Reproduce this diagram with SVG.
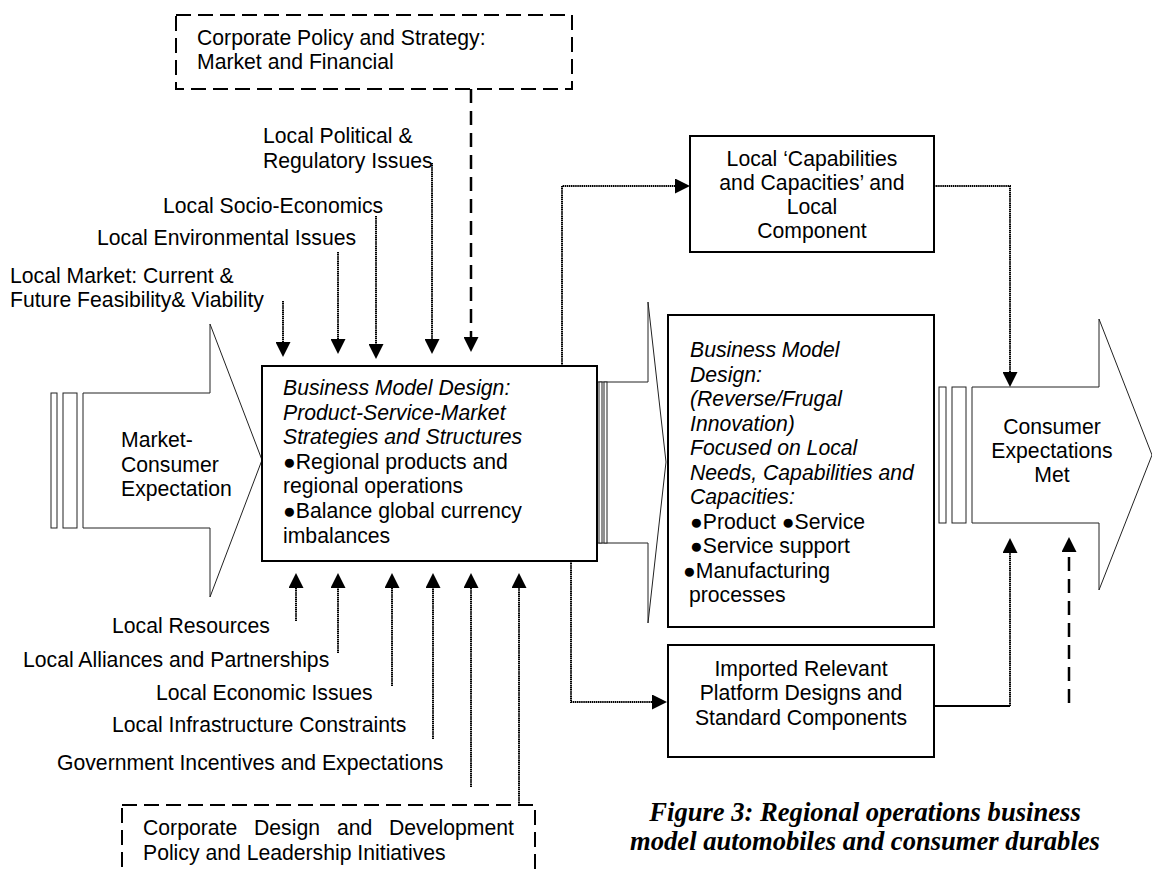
<svg xmlns="http://www.w3.org/2000/svg" width="1152" height="872" viewBox="0 0 1152 872">
<style>
text{font-family:"Liberation Sans",Arial,sans-serif;font-size:21.2px;fill:#000}
.it{font-style:italic}
.c{text-anchor:middle}
.cap{font-family:"Liberation Serif","Times New Roman",serif;font-size:26.6px;font-weight:bold;font-style:italic;text-anchor:middle}
.box{fill:#fff;stroke:#000;stroke-width:2}
.dbox{fill:none;stroke:#000;stroke-width:2;stroke-dasharray:15 7}
.big{fill:#fff;stroke:#222;stroke-width:1}
.dot{fill:none;stroke:#000;stroke-width:2;stroke-dasharray:1.5 0.6}
.dash{fill:none;stroke:#000;stroke-width:2.5;stroke-dasharray:14 8}
.sol{fill:none;stroke:#000;stroke-width:2}
</style>
<defs>
<marker id="ah" viewBox="0 0 15 15" refX="0" refY="7.5" markerWidth="15" markerHeight="15" markerUnits="userSpaceOnUse" orient="auto">
<path d="M0,0 L15,7.5 L0,15 z" fill="#000"/>
</marker>
</defs>

<g id="arrow-left">
<rect class="big" x="51" y="393" width="6" height="135"/>
<rect class="big" x="63" y="393" width="14" height="135"/>
<polygon class="big" points="83,393 210,393 210,324 262,460 210,597 210,528 83,528"/>
<text x="121" y="447">Market-</text>
<text x="121" y="472">Consumer</text>
<text x="121" y="496">Expectation</text>
</g>

<g id="arrow-middle">
<polygon class="big" points="590,382 648,382 648,302 666,462 648,623 648,543 590,543"/>
<rect class="big" x="599" y="382" width="3" height="161"/>
<rect class="big" x="604" y="382" width="3" height="161"/>
</g>

<g id="arrow-right">
<rect class="big" x="939" y="387" width="7" height="136"/>
<rect class="big" x="952" y="387" width="14" height="136"/>
<polygon class="big" points="972,387 1099,387 1099,319 1152,455 1099,590 1099,523 972,523"/>
<text class="c" x="1052" y="434">Consumer</text>
<text class="c" x="1052" y="458">Expectations</text>
<text class="c" x="1052" y="482">Met</text>
</g>

<g id="corporate-policy">
<rect class="dbox" x="176" y="15" width="396" height="74"/>
<text x="197" y="45">Corporate Policy and Strategy:</text>
<text x="197" y="69">Market and Financial</text>
</g>

<g id="corporate-design">
<rect class="dbox" x="122" y="805" width="413" height="80"/>
<text x="143" y="835">Corporate</text>
<text x="254" y="835">Design</text>
<text x="337" y="835">and</text>
<text x="389" y="835">Development</text>
<text x="143" y="860">Policy and Leadership Initiatives</text>
</g>

<g id="central-box">
<rect class="box" x="262" y="366" width="335" height="195"/>
<text class="it" x="283" y="395">Business Model Design:</text>
<text class="it" x="283" y="420">Product-Service-Market</text>
<text class="it" x="283" y="444">Strategies and Structures</text>
<text x="283" y="469">●Regional products and</text>
<text x="283" y="493">regional operations</text>
<text x="283" y="518">●Balance global currency</text>
<text x="283" y="543">imbalances</text>
</g>

<g id="local-frugal-box">
<rect class="box" x="668" y="315" width="266" height="312"/>
<text class="it" x="690" y="357">Business Model</text>
<text class="it" x="690" y="381.5">Design:</text>
<text class="it" x="690" y="406">(Reverse/Frugal</text>
<text class="it" x="690" y="430.5">Innovation)</text>
<text class="it" x="690" y="455">Focused on Local</text>
<text class="it" x="690" y="479.5">Needs, Capabilities and</text>
<text class="it" x="690" y="504">Capacities:</text>
<text x="690" y="528.5">●Product ●Service</text>
<text x="690" y="553">●Service support</text>
<text x="683" y="577.5">●Manufacturing</text>
<text x="689" y="602">processes</text>
</g>

<g id="local-capabilities-box">
<rect class="box" x="690" y="136" width="244" height="116"/>
<text class="c" x="812" y="166">Local ‘Capabilities</text>
<text class="c" x="812" y="190">and Capacities’ and</text>
<text class="c" x="812" y="214">Local</text>
<text class="c" x="812" y="238">Component</text>
</g>

<g id="imported-box">
<rect class="box" x="668" y="645" width="266" height="112"/>
<text class="c" x="801" y="676">Imported Relevant</text>
<text class="c" x="801" y="700">Platform Designs and</text>
<text class="c" x="801" y="725">Standard Components</text>
</g>

<g id="labels-top">
<text x="263" y="143">Local Political &amp;</text>
<text x="263" y="167.5">Regulatory Issues</text>
<text x="163" y="213">Local Socio-Economics</text>
<text x="97" y="245">Local Environmental Issues</text>
<text x="10" y="283">Local Market: Current &amp;</text>
<text x="10" y="307">Future Feasibility&amp; Viability</text>
</g>

<g id="labels-bottom">
<text x="112" y="633">Local Resources</text>
<text x="23" y="667">Local Alliances and Partnerships</text>
<text x="156" y="700">Local Economic Issues</text>
<text x="112" y="732">Local Infrastructure Constraints</text>
<text x="57" y="770">Government Incentives and Expectations</text>
</g>

<g id="caption">
<text class="cap" x="865" y="821">Figure 3: Regional operations business</text>
<text class="cap" x="865" y="850">model automobiles and consumer durables</text>
</g>

<g id="connectors">
<path class="dot" d="M283,301 V342" marker-end="url(#ah)"/>
<path class="dot" d="M338,252 V339" marker-end="url(#ah)"/>
<path class="dot" d="M376,216 V344" marker-end="url(#ah)"/>
<path class="dot" d="M432,163 V339" marker-end="url(#ah)"/>
<path class="dash" d="M471,89 V337" marker-end="url(#ah)"/>
<path class="dot" d="M296,621 V588" marker-end="url(#ah)"/>
<path class="dot" d="M338,653 V588" marker-end="url(#ah)"/>
<path class="dot" d="M392,686 V588" marker-end="url(#ah)"/>
<path class="dot" d="M433,739 V588" marker-end="url(#ah)"/>
<path class="dot" d="M471,787 V588" marker-end="url(#ah)"/>
<path class="dot" d="M519,805 V588" marker-end="url(#ah)"/>
<path class="dot" d="M562,366 V186 H675" marker-end="url(#ah)"/>
<path class="dot" d="M571,561 V702 H652" marker-end="url(#ah)"/>
<path class="dot" d="M934,186 H1010 V372" marker-end="url(#ah)"/>
<path class="sol" d="M934,706 H1010"/>
<path class="dot" d="M1010,706 V553" marker-end="url(#ah)"/>
<path class="dash" d="M1069,703 V552" marker-end="url(#ah)"/>
</g>
</svg>
